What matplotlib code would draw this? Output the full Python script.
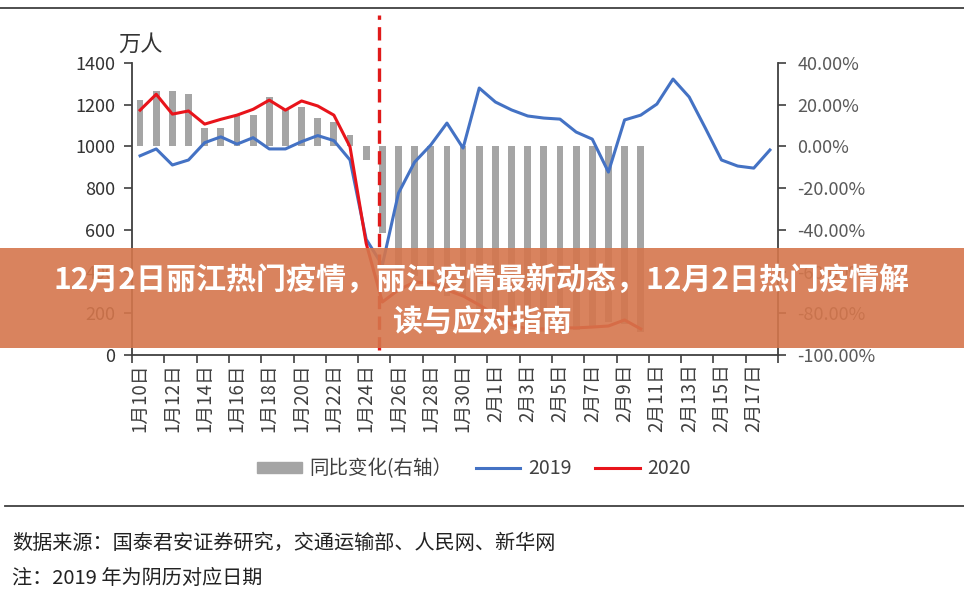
import matplotlib
matplotlib.use('Agg')
import numpy as np
import matplotlib.pyplot as plt
from matplotlib.patches import Rectangle, Patch
from matplotlib.lines import Line2D

plt.rcParams['font.family'] = ['Noto Sans CJK SC', 'DejaVu Sans']

# dates 1月10日 .. 2月18日
dates = [f"1月{d}日" for d in range(10, 32)] + [f"2月{d}日" for d in range(1, 19)]

# 2019 (lunar-matched), 万人
y2019 = [955, 988, 911, 935, 1018, 1046, 1011, 1042, 988, 988,
         1023, 1052, 1028, 935, 555, 431, 776, 925, 1007, 1112,
         992, 1280, 1213, 1175, 1146, 1136, 1131, 1069, 1035, 877,
         1127, 1150, 1203, 1323, 1237, 1088, 935, 906, 896, 983]

# 2020, 万人
y2020 = [1174, 1250, 1155, 1170, 1107, 1130, 1150, 1178, 1222, 1174,
         1218, 1194, 1150, 998, 535, 254, 312, 350, 345, 312,
         283, 240, 192, 144, 125, 125, 130, 130, 134, 139,
         168, 125]

# 同比变化 (%)
yoy = [22.5, 26.4, 26.8, 25.2, 8.8, 8.8, 14.9, 15.3, 23.6, 17.3,
       18.9, 13.8, 11.7, 5.4, -6.4, -41.4, -59.8, -62.2, -65.7, -71.9,
       -71.5, -81.2, -84.2, -87.7, -89.1, -89.0, -88.5, -87.8, -87.1, -84.2,
       -85.1, -89.1]

W, H = 964, 598
fig = plt.figure(figsize=(W / 100, H / 100), dpi=100)

ax = fig.add_axes([132 / W, 1 - 355 / H, (778 - 132) / W, (355 - 63) / H])
ax2 = ax.twinx()
ax.set_zorder(ax2.get_zorder() + 1)
ax.patch.set_visible(False)

x = np.arange(len(dates))

ax2.bar(np.arange(len(yoy)), yoy, width=0.42, color='#A5A5A5', zorder=1)
ax2.set_ylim(-100, 40)
ax2.set_yticks(np.arange(-100, 41, 20))
ax2.set_yticklabels([f"{v:.2f}%" for v in np.arange(-100, 41, 20)])

ax.plot(x, y2019, color='#4472C4', lw=2.2, solid_joinstyle='round')
ax.plot(np.arange(len(y2020)), y2020, color='#E8141B', lw=2.2, solid_joinstyle='round')
ax.set_ylim(0, 1400)
ax.set_xlim(-0.5, len(dates) - 0.5)
ax.set_yticks(range(0, 1401, 200))

# dashed marker line (1月25日)
ax.plot([14.8, 14.8], [22, 1630], color='#E01A1A', lw=2.4, ls=(0, (4, 2.2)),
        clip_on=False, zorder=5)

ax.set_xticks(x[::2])
ax.set_xticklabels(dates[::2], rotation=90, fontsize=13.5, color='#404040')
ax.set_xticks(np.arange(-0.5, len(dates), 2), minor=True)
ax.tick_params(axis='x', which='major', length=0, pad=6)
ax.tick_params(axis='x', which='minor', length=6, width=1.2, color='#404040')
ax.tick_params(axis='y', length=6, width=1.2, color='#404040', labelsize=13,
               labelcolor='#333333', pad=6)
ax2.tick_params(axis='y', length=6, width=1.2, color='#404040', labelsize=13,
                labelcolor='#595959', pad=8)

for a in (ax, ax2):
    for side in ('top', 'left', 'right', 'bottom'):
        a.spines[side].set_visible(False)
ax.spines['left'].set_visible(True)
ax.spines['bottom'].set_visible(True)
ax2.spines['right'].set_visible(True)
for s in (ax.spines['left'], ax.spines['bottom'], ax2.spines['right']):
    s.set_color('#404040')
    s.set_linewidth(1.3)

fig.text(118 / W, 1 - 44 / H, '万人', fontsize=16, color='#333333', va='center')

handles = [Patch(color='#A5A5A5'),
           Line2D([], [], color='#4472C4', lw=2.2),
           Line2D([], [], color='#E8141B', lw=2.2)]
fig.legend(handles, ['同比变化(右轴）', '2019', '2020'], loc='center',
           bbox_to_anchor=(474 / W, 1 - 469 / H), ncol=3, frameon=False,
           fontsize=14, handlelength=2.3, handleheight=0.5, columnspacing=1.2,
           handletextpad=0.4, labelcolor='#404040')

fig.add_artist(Line2D([0, 1], [1 - 8 / H, 1 - 8 / H], color='#404040', lw=1.3))
fig.add_artist(Line2D([5 / W, 1], [1 - 506 / H, 1 - 506 / H], color='#404040', lw=1.3))

fig.text(12 / W, 1 - 543 / H, '数据来源：国泰君安证券研究，交通运输部、人民网、新华网',
         fontsize=14.5, color='#222222', va='center')
fig.text(12 / W, 1 - 578 / H, '注：2019 年为阴历对应日期',
         fontsize=14.5, color='#222222', va='center')

# title banner
fig.add_artist(Rectangle((0, 1 - 348 / H), 1, 100 / H, transform=fig.transFigure,
                         facecolor='#D5764C', alpha=0.9, edgecolor='none', zorder=10))
fig.text(0.5, 1 - 280 / H, '12月2日丽江热门疫情，丽江疫情最新动态，12月2日热门疫情解',
         ha='center', va='center', fontsize=21.6, fontweight='bold', color='white', zorder=11)
fig.text(0.5, 1 - 322 / H, '读与应对指南',
         ha='center', va='center', fontsize=21.6, fontweight='bold', color='white', zorder=11)

fig.savefig('out.png', dpi=100)
